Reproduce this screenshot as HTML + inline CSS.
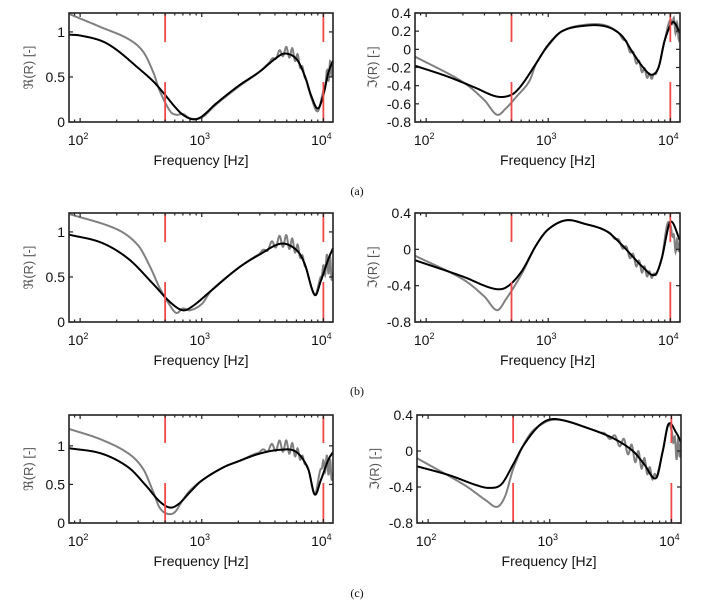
<!DOCTYPE html>
<html><head><meta charset="utf-8"><style>
html,body{margin:0;padding:0;background:#fff;}
svg{display:block;}
text{font-family:"Liberation Sans",sans-serif;}
</style></head><body>
<svg id="s" width="723" height="610" viewBox="0 0 723 610" xmlns="http://www.w3.org/2000/svg"></svg>
<script>
const S=document.getElementById('s');let out='';
const LF0=Math.log10(81),LF1=Math.log10(12000);
function interp(pts,lf){
  const P=pts.map(p=>[Math.log10(p[0]),p[1]]);
  if(lf<=P[0][0])return P[0][1];
  if(lf>=P[P.length-1][0])return P[P.length-1][1];
  let i=0;while(P[i+1][0]<lf)i++;
  const p0=P[Math.max(0,i-1)],p1=P[i],p2=P[i+1],p3=P[Math.min(P.length-1,i+2)];
  const t=(lf-p1[0])/(p2[0]-p1[0]);const h=p2[0]-p1[0];
  const m1=(p2[1]-p0[1])/(p2[0]-p0[0])*h,m2=(p3[1]-p1[1])/(p3[0]-p1[0])*h;
  const t2=t*t,t3=t2*t;
  return (2*t3-3*t2+1)*p1[1]+(t3-2*t2+t)*m1+(-2*t3+3*t2)*p2[1]+(t3-t2)*m2;
}
function panel(x0,y0,x1,y1,ymin,ymax,yt,ylab,black,gray,osc,redA,redB){
  const dec=(x1-x0)/(LF1-LF0);
  const X=lf=>x0+(lf-LF0)*dec, Y=v=>y1-(v-ymin)/(ymax-ymin)*(y1-y0);
  let g='',b='';
  for(let i=0;i<=900;i++){
    const lf=LF0+(LF1-LF0)*i/900,f=Math.pow(10,lf);
    let vb=interp(black,lf);
    let vg=interp(gray,lf)+osc(f);
    vg=Math.max(ymin,Math.min(ymax,vg));
    g+=(i?'L':'M')+X(lf).toFixed(2)+' '+Y(vg).toFixed(2);
    b+=(i?'L':'M')+X(lf).toFixed(2)+' '+Y(vb).toFixed(2);
  }
  out+=`<defs><clipPath id="c${x0}${y0}"><rect x="${x0}" y="${y0}" width="${x1-x0}" height="${y1-y0}"/></clipPath></defs>`;
  out+=`<g clip-path="url(#c${x0}${y0})"><path d="${g}" fill="none" stroke="#808080" stroke-width="2"/><path d="${b}" fill="none" stroke="#000" stroke-width="2"/></g>`;
  [Math.log10(500),4].forEach(lf=>{const x=X(lf);
    out+=`<line x1="${x}" y1="${y0}" x2="${x}" y2="${redA}" stroke="#f04848" stroke-width="1.8"/><line x1="${x}" y1="${redB}" x2="${x}" y2="${y1}" stroke="#f04848" stroke-width="1.8"/>`;});
  out+=`<rect x="${x0}" y="${y0}" width="${x1-x0}" height="${y1-y0}" fill="none" stroke="#222" stroke-width="1.6"/>`;
  for(let d=1;d<=4;d++)for(let k=1;k<10;k++){const lf=d+Math.log10(k);if(lf<LF0||lf>LF1)continue;const x=X(lf);const L=k==1?4:2.5;
    out+=`<line x1="${x}" y1="${y1}" x2="${x}" y2="${y1-L}" stroke="#222" stroke-width="1.2"/><line x1="${x}" y1="${y0}" x2="${x}" y2="${y0+L}" stroke="#222" stroke-width="1.2"/>`;}
  [2,3,4].forEach(d=>{const x=X(d);out+=`<text x="${x-2}" y="${y1+23}" font-size="14" text-anchor="middle" fill="#111">10<tspan font-size="9" dy="-6">${d}</tspan></text>`;});
  yt.forEach(t=>{const y=Y(t[0]);out+=`<line x1="${x0}" y1="${y}" x2="${x0+4}" y2="${y}" stroke="#222" stroke-width="1.2"/><line x1="${x1}" y1="${y}" x2="${x1-4}" y2="${y}" stroke="#222" stroke-width="1.2"/><text x="${x0-4}" y="${y+5}" font-size="14" text-anchor="end" fill="#111">${t[1]}</text>`;});
  out+=`<text x="${(x0+x1)/2}" y="${y1+43}" font-size="14" text-anchor="middle" fill="#111">Frequency [Hz]</text>`;
  const lx=ylab[1];out+=`<text transform="translate(${lx},${(y0+y1)/2}) rotate(-90)" font-size="13" text-anchor="middle" fill="#555">${ylab[0]}</text>`;
}
function oscF(regs){return f=>{let s=0;regs.forEach(r=>{if(f>r[0]&&f<r[1]){const w=Math.sin(Math.PI*(f-r[0])/(r[1]-r[0]));s+=r[2]*w*Math.sin(2*Math.PI*f/r[3]);}});return s;};}
const ReT=[[0,'0'],[0.5,'0.5'],[1,'1']];
const ImTa=[[0.4,'0.4'],[0.2,'0.2'],[0,'0'],[-0.2,'-0.2'],[-0.4,'-0.4'],[-0.6,'-0.6'],[-0.8,'-0.8']];
const ImTb=[[0.4,'0.4'],[0,'0'],[-0.4,'-0.4'],[-0.8,'-0.8']];
const RE='ℜ(R) [-]',IM='ℑ(R) [-]';
let bk=[[81,0.97],[100,0.96],[150,0.9],[200,0.8],[300,0.6],[400,0.45],[500,0.3],[600,0.17],[700,0.08],[850,0.03],[1000,0.06],[1300,0.2],[2000,0.4],[3000,0.56],[4000,0.7],[4800,0.76],[6000,0.7],[7000,0.52],[8000,0.28],[9000,0.15],[10000,0.3],[11000,0.55],[12000,0.68]];
let gr=[[81,1.2],[150,1.05],[250,0.92],[330,0.78],[400,0.55],[450,0.35],[550,0.12],[620,0.08],[700,0.09],[800,0.04],[1000,0.05],[1300,0.19],[2000,0.39],[3000,0.56],[4000,0.72],[4800,0.78],[6000,0.72],[7000,0.52],[8000,0.26],[9000,0.12],[10000,0.35],[11000,0.55],[12000,0.6]];
panel(69,13,333,122,0,1.21,ReT,[RE,33],bk,gr,oscF([[3500,7500,0.06,600],[10000,12500,0.1,700]]),42,82);
bk=[[81,-0.18],[150,-0.3],[250,-0.42],[380,-0.52],[500,-0.5],[600,-0.4],[800,-0.15],[1000,0.05],[1300,0.2],[2000,0.26],[3000,0.25],[4000,0.15],[5000,-0.05],[6000,-0.2],[7000,-0.28],[8000,-0.2],[9000,0.1],[10500,0.3],[12000,0.18]];
gr=[[81,-0.08],[200,-0.36],[300,-0.56],[380,-0.72],[450,-0.65],[550,-0.52],[700,-0.35],[800,-0.15],[1000,0.04],[1300,0.2],[2000,0.27],[3000,0.26],[4000,0.14],[5000,-0.07],[6000,-0.23],[7000,-0.3],[8000,-0.2],[9000,0.1],[10000,0.32],[12000,0.15]];
panel(415,13,680,122,-0.8,0.4,ImTa,[IM,377],bk,gr,oscF([[3500,8000,0.04,600],[10000,12500,0.08,700]]),42,82);
bk=[[81,0.97],[150,0.88],[250,0.7],[400,0.42],[550,0.22],[700,0.13],[850,0.18],[1200,0.35],[2000,0.6],[3000,0.75],[4500,0.87],[6000,0.8],[7000,0.65],[8500,0.3],[9500,0.45],[11000,0.7],[12000,0.82]];
gr=[[81,1.2],[200,1.03],[300,0.85],[380,0.6],[450,0.38],[550,0.18],[620,0.1],[700,0.15],[800,0.13],[1000,0.2],[1200,0.35],[2000,0.6],[3000,0.76],[4500,0.9],[6000,0.82],[7000,0.65],[8500,0.3],[9500,0.5],[11000,0.65],[12000,0.5]];
panel(69,213,333,322,0,1.21,ReT,[RE,33],bk,gr,oscF([[2800,7500,0.07,600],[9500,12500,0.12,700]]),242,282);
bk=[[81,-0.12],[200,-0.3],[350,-0.43],[450,-0.42],[600,-0.25],[800,0.05],[1000,0.22],[1400,0.32],[2000,0.28],[3000,0.2],[4000,0.05],[6000,-0.2],[7500,-0.28],[8500,-0.1],[10000,0.3],[12000,0.1]];
gr=[[81,-0.07],[200,-0.33],[300,-0.52],[380,-0.67],[450,-0.55],[600,-0.28],[800,0.05],[1000,0.22],[1400,0.32],[2000,0.28],[3000,0.2],[4000,0.05],[6000,-0.22],[7500,-0.28],[8500,-0.1],[9600,0.3],[11000,0.05],[12000,0.05]];
panel(415,213,680,322,-0.8,0.4,ImTb,[IM,377],bk,gr,oscF([[3000,8000,0.05,600],[10000,12500,0.08,700]]),242,282);
bk=[[81,0.97],[150,0.9],[250,0.72],[350,0.48],[450,0.28],[550,0.2],[650,0.25],[800,0.4],[1000,0.55],[1500,0.72],[2000,0.8],[3000,0.9],[4500,0.95],[6000,0.92],[7500,0.7],[8500,0.37],[9500,0.55],[11000,0.82],[12000,0.92]];
gr=[[81,1.22],[150,1.08],[250,0.9],[330,0.7],[400,0.4],[450,0.2],[520,0.12],[600,0.14],[700,0.3],[800,0.42],[1000,0.55],[1500,0.72],[2000,0.8],[3000,0.92],[4500,1.0],[6000,0.92],[7500,0.7],[8500,0.37],[9500,0.7],[11000,0.75],[12000,0.6]];
panel(69,415,333,523,0,1.4,ReT,[RE,33],bk,gr,oscF([[2800,7500,0.08,600],[9500,12500,0.13,700]]),443,483);
bk=[[81,-0.17],[150,-0.27],[250,-0.38],[320,-0.41],[400,-0.37],[500,-0.15],[600,0.05],[800,0.27],[1000,0.35],[1300,0.34],[2000,0.26],[3000,0.17],[4000,0.08],[5000,-0.02],[6000,-0.15],[7500,-0.3],[8500,0.0],[9500,0.3],[11000,0.2],[12000,0.1]];
gr=[[81,-0.08],[200,-0.38],[300,-0.55],[370,-0.62],[430,-0.5],[500,-0.2],[600,0.05],[700,0.2],[800,0.27],[1000,0.34],[1300,0.34],[2000,0.26],[3000,0.17],[4000,0.08],[5000,-0.04],[6000,-0.15],[7500,-0.28],[8500,0.0],[9500,0.3],[11000,0.02],[12000,0.05]];
panel(417,415,681,523,-0.8,0.4,ImTb,[IM,379],bk,gr,oscF([[2500,8000,0.08,650],[10000,12500,0.12,700]]),443,483);
[['(a)',195],['(b)',395],['(c)',597]].forEach(l=>{out+=`<text x="357" y="${l[1]}" font-size="12" text-anchor="middle" fill="#111" style="font-family:'Liberation Serif',serif">${l[0]}</text>`;});
S.innerHTML=out;
</script>
</body></html>
